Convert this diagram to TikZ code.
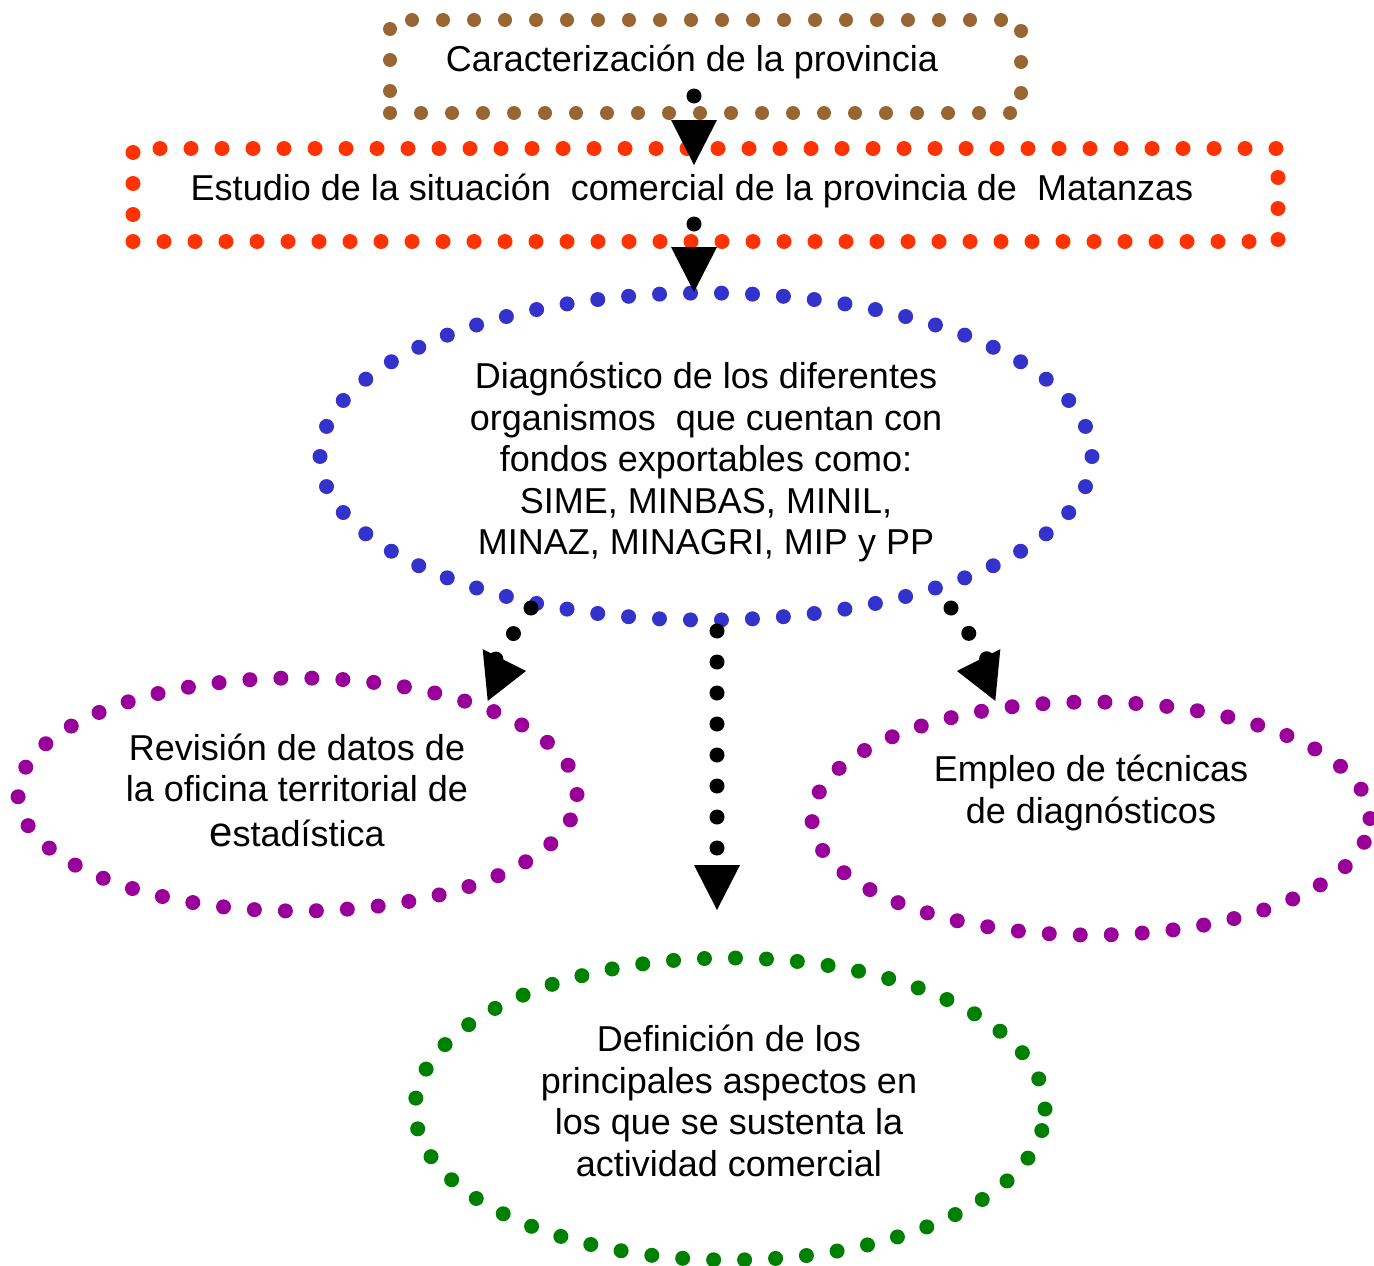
\documentclass[tikz,border=0pt]{standalone}
\usepackage{fontspec}
\setmainfont{Liberation Sans}
\usetikzlibrary{shapes.geometric,arrows.meta}
\definecolor{brn}{HTML}{996633}
\definecolor{redd}{HTML}{FF3300}
\definecolor{blu}{HTML}{3333CC}
\definecolor{purp}{HTML}{990099}
\definecolor{grn}{HTML}{008000}
\begin{document}
\begin{tikzpicture}[x=1pt,y=-1pt,
  dotline/.style={line width=15pt, line cap=round, dash pattern=on 0pt off 31pt},
  boxshape/.style={dotline, rectangle, inner sep=0pt},
  ovalshape/.style={dotline, ellipse, inner sep=0pt},
  txt/.style={font=\fontsize{36}{41.5}\selectfont, align=center, inner sep=0pt},
  conn/.style={dotline, black, -{Triangle[length=45pt, width=46pt, line width=0pt]}},
  sideconn/.style={dotline, black, line join=round, -{Triangle[length=41pt, width=52pt, line width=0pt]}}]
\useasboundingbox (0,0) rectangle (1374,1266);

% shapes
\node[boxshape, draw=brn, line width=14pt, minimum width=631pt, minimum height=93pt] (b1) at (705.5,66.5) {};
\node[boxshape, draw=redd, minimum width=1145pt, minimum height=93pt] (b2) at (705.5,195) {};
\node[ovalshape, draw=blu, minimum width=772pt, minimum height=327pt] (e1) at (706,456.5) {};
\node[ovalshape, draw=purp, minimum width=559pt, minimum height=233pt] (e2) at (297.5,794.5) {};
\node[ovalshape, draw=purp, minimum width=558pt, minimum height=233pt] (e3) at (1091,818.5) {};
\node[ovalshape, draw=grn, minimum width=630pt, minimum height=302pt] (e4) at (730,1109) {};

% texts
\node[txt] (t1) at (692,62) {Caracterización de la provincia};
\node[txt] (t2) at (692,191) {Estudio de la situación\ \ comercial de la provincia de\ \ Matanzas};
\node[txt] (t3) at (706,462) {Diagnóstico de los diferentes\\organismos\ \ que cuentan con\\fondos exportables como:\\SIME, MINBAS, MINIL,\\MINAZ, MINAGRI, MIP y PP};
\node[txt] (t4) at (297,790) {Revisión de datos de\\la oficina territorial de\\[3pt]{\fontsize{42}{41.5}\selectfont e}stadística};
\node[txt] (t5) at (1091,793) {Empleo de técnicas\\de diagnósticos};
\node[txt] (t6) at (729,1101) {Definición de los\\principales aspectos en\\los que se sustenta la\\actividad comercial};

% connectors
\coordinate (c1s) at (694,96);  \coordinate (c1e) at (694,165);
\coordinate (c2s) at (694,224); \coordinate (c2e) at (694,292);
\coordinate (c3s) at (717,631); \coordinate (c3e) at (717,910);
\coordinate (c4s) at (531,608); \coordinate (c4m) at (485,675); \coordinate (c4e) at (526,671);
\coordinate (c5s) at (951,608); \coordinate (c5m) at (998,675); \coordinate (c5e) at (957,671);
\draw[conn] (c1s) -- (c1e);
\draw[conn] (c2s) -- (c2e);
\draw[conn] (c3s) -- (c3e);
\draw[sideconn] (c4s) -- (c4m) -- (c4e);
\draw[sideconn] (c5s) -- (c5m) -- (c5e);
\end{tikzpicture}
\end{document}
